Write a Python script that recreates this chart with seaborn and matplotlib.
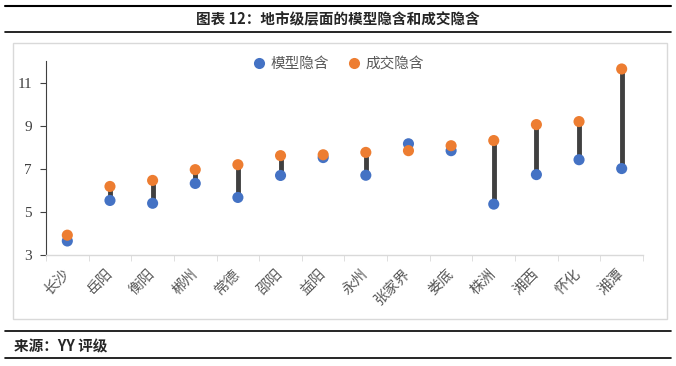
import matplotlib.pyplot as plt
import matplotlib.patches as patches
import numpy as np
import pandas as pd
import seaborn as sns

cities = ["长沙", "岳阳", "衡阳", "郴州", "常德", "邵阳", "益阳",
          "永州", "张家界", "娄底", "株洲", "湘西", "怀化", "湘潭"]
model_implied = [3.65, 5.53, 5.40, 6.32, 5.67, 6.69, 7.52,
                 6.70, 8.16, 7.84, 5.36, 6.73, 7.42, 7.01]
deal_implied = [3.92, 6.18, 6.46, 6.96, 7.19, 7.61, 7.65,
                7.76, 7.84, 8.07, 8.31, 9.05, 9.19, 11.63]
series_names = ["模型隐含", "成交隐含"]
yticks = [3, 5, 7, 9, 11]

title = "图表 12：地市级层面的模型隐含和成交隐含"
source = "来源：YY 评级"

blue = "#4472C4"
orange = "#ED7D31"

sns.set_style("white")
plt.rcParams["font.family"] = ["Noto Sans CJK SC", "DejaVu Sans"]

df = pd.DataFrame({
    "city": cities * 2,
    "value": model_implied + deal_implied,
    "series": [series_names[0]] * len(cities) + [series_names[1]] * len(cities),
})

fig = plt.figure(figsize=(6.76, 3.66), dpi=100)

# frame lines and chart box
for yy, lw in [(6, 1.5), (32, 1.2), (331, 1.2), (358, 1.2)]:
    fig.add_artist(plt.Line2D([5 / 676, 671 / 676], [1 - yy / 366] * 2,
                              color="black", lw=lw))
fig.add_artist(patches.Rectangle((13 / 676, 1 - 319 / 366), 654 / 676, 276 / 366,
                                 fill=False, edgecolor="#D9D9D9", lw=1))
fig.text(0.5, 1 - 19 / 366, title, ha="center", va="center",
         fontsize=10.5, fontweight="bold")
fig.text(14 / 676, 1 - 346 / 366, source, ha="left", va="center",
         fontsize=10.5, fontweight="bold")

ax = fig.add_axes([46 / 676, 1 - 255 / 366, 597 / 676, 194 / 366])

pos = np.arange(len(cities))
ax.vlines(pos, model_implied, deal_implied, color="#404040", lw=3.5, zorder=1)

sns.stripplot(data=df, x="city", y="value", hue="series", jitter=False,
              palette=[blue, orange], size=8, linewidth=0, ax=ax, zorder=3)

ax.set_ylim(3, 12)
ax.set_xlim(-0.5, len(cities) - 0.5)
ax.set_yticks(yticks)
ax.set_xlabel("")
ax.set_ylabel("")

for lab in ax.get_yticklabels():
    lab.set_family("Liberation Serif")
    lab.set_fontsize(11)
    lab.set_color("#404040")
ax.tick_params(axis="y", length=4, width=0.8, color="#404040", pad=6, left=True)

ax.set_xticks(pos)
ax.set_xticklabels(cities, rotation=45, ha="right", va="center",
                   rotation_mode="anchor", fontsize=10.5, color="#595959")
ax.tick_params(axis="x", length=0, pad=12)
ax.set_xticks(np.arange(-0.5, len(cities)), minor=True)
ax.tick_params(axis="x", which="minor", length=4, color="#D9D9D9", bottom=True)

sns.despine(ax=ax, top=True, right=True)
ax.spines["left"].set_color("#404040")
ax.spines["left"].set_linewidth(0.8)
ax.spines["bottom"].set_color("#D9D9D9")
ax.spines["bottom"].set_linewidth(1)

handles, labels = ax.get_legend_handles_labels()
ax.legend(handles, labels, loc="center", bbox_to_anchor=(0.5, 1 - 64 / 366),
          bbox_transform=fig.transFigure, ncol=2, frameon=False, fontsize=10.5,
          labelcolor="#595959", handletextpad=0.3, columnspacing=1.2,
          handlelength=1, markerscale=1)

fig.savefig("out.png", dpi=100)
